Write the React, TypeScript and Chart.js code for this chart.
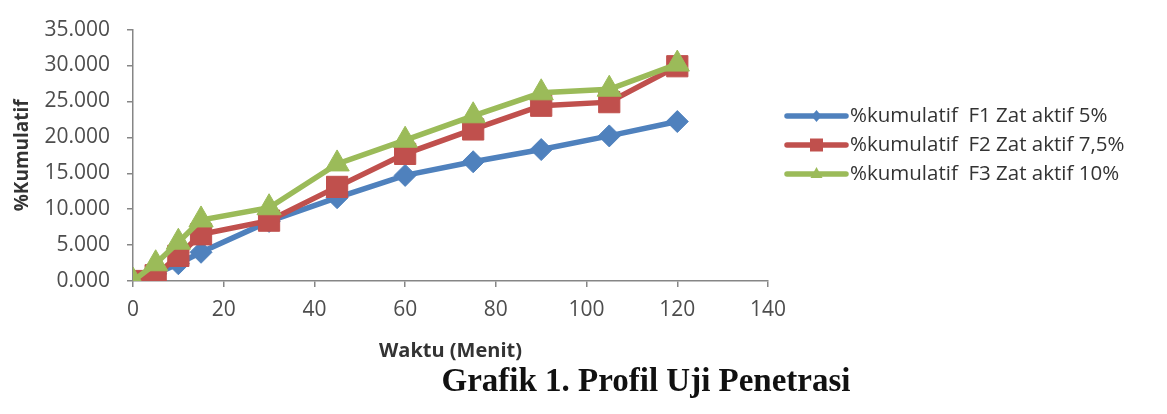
import React, { useEffect, useRef } from "react";
import { Chart, registerables } from "chart.js";

Chart.register(...registerables);

// ---- data ----
const times = [0, 5, 10, 15, 30, 45, 60, 75, 90, 105, 120];
const f1Values = [0, 1.0, 2.4, 4.0, 8.3, 11.6, 14.7, 16.6, 18.3, 20.2, 22.2];
const f2Values = [0, 0.8, 3.5, 6.5, 8.4, 13.1, 17.7, 21.1, 24.4, 24.9, 29.9];
const f3Values = [0, 2.4, 5.4, 8.5, 10.2, 16.3, 19.6, 23.0, 26.2, 26.7, 30.2];
const seriesLabels = [
  "%kumulatif  F1 Zat aktif 5%",
  "%kumulatif  F2 Zat aktif 7,5%",
  "%kumulatif  F3 Zat aktif 10%",
];
const xTitle = "Waktu (Menit)";
const yTitle = "%Kumulatif";
const caption = "Grafik 1. Profil Uji Penetrasi";

const COLORS = ["#4F81BD", "#C0504D", "#9BBB59"];
const STYLES = ["rectRot", "rect", "triangle"];
const RADII = [11, 15, 14];

const legendPlugin = {
  id: "excelLegend",
  afterDraw(chart: any) {
    const ctx = chart.ctx;
    const x0 = 787;
    const x1 = 846;
    const textX = 850;
    const y0 = 116;
    const step = 29;
    chart.data.datasets.forEach((ds: any, i: number) => {
      const y = y0 + i * step;
      const c = ds.borderColor;
      ctx.save();
      ctx.strokeStyle = c;
      ctx.fillStyle = c;
      ctx.lineWidth = 5.5;
      ctx.lineCap = "round";
      ctx.beginPath();
      ctx.moveTo(x0, y);
      ctx.lineTo(x1, y);
      ctx.stroke();
      const cx = (x0 + x1) / 2;
      ctx.beginPath();
      if (i === 0) {
        ctx.moveTo(cx, y - 6);
        ctx.lineTo(cx + 5, y);
        ctx.lineTo(cx, y + 6);
        ctx.lineTo(cx - 5, y);
        ctx.closePath();
      } else if (i === 1) {
        ctx.rect(cx - 6.5, y - 6.5, 13, 13);
      } else {
        ctx.moveTo(cx, y - 7);
        ctx.lineTo(cx + 6, y + 4);
        ctx.lineTo(cx - 6, y + 4);
        ctx.closePath();
      }
      ctx.fill();
      ctx.fillStyle = "#333333";
      ctx.font = '20.5px "Open Sans"';
      ctx.textBaseline = "middle";
      ctx.textAlign = "left";
      ctx.fillText(ds.label, textX, y);
      ctx.restore();
    });
  },
};

export default function App() {
  const canvasRef = useRef<HTMLCanvasElement | null>(null);

  useEffect(() => {
    let chart: Chart | null = null;
    let cancelled = false;
    const make = () => {
      if (cancelled || !canvasRef.current) return;
      const seriesData = [f1Values, f2Values, f3Values];
      chart = new Chart(canvasRef.current, {
        type: "line",
        data: {
          datasets: seriesData.map((vals, i) => ({
            label: seriesLabels[i],
            data: times.map((t, j) => ({ x: t, y: vals[j] })),
            borderColor: COLORS[i],
            backgroundColor: COLORS[i],
            borderWidth: 5.5,
            pointStyle: STYLES[i] as any,
            pointRadius: RADII[i],
            pointBorderWidth: 1,
            pointBackgroundColor: COLORS[i],
            pointBorderColor: COLORS[i],
            tension: 0,
            fill: false,
            order: 2 - i,
          })),
        },
        options: {
          animation: false,
          responsive: false,
          layout: { padding: { top: 18, right: 399, bottom: 43, left: 0 } },
          plugins: {
            legend: { display: false },
            tooltip: { enabled: false },
            title: { display: false },
          },
          scales: {
            x: {
              type: "linear",
              min: 0,
              max: 140,
              ticks: {
                stepSize: 20,
                font: { family: "Open Sans", size: 21 },
                color: "#4d4d4d",
                padding: 10,
              },
              grid: {
                display: true,
                drawOnChartArea: false,
                drawTicks: true,
                tickLength: 6,
                color: "#868686",
                lineWidth: 1.5,
              },
              border: { color: "#868686", width: 1.5 },
              title: {
                display: true,
                text: xTitle,
                font: { family: "Open Sans", size: 20, weight: "bold" },
                color: "#333333",
                padding: { top: 0, bottom: 8 },
              },
              afterFit(s: any) {
                s.height = 90;
              },
            },
            y: {
              min: 0,
              max: 35,
              ticks: {
                stepSize: 5,
                callback: (v: any) => Number(v).toFixed(3),
                font: { family: "Open Sans", size: 21 },
                color: "#4d4d4d",
                padding: 17,
              },
              grid: {
                display: true,
                drawOnChartArea: false,
                drawTicks: true,
                tickLength: 6,
                color: "#868686",
                lineWidth: 1.5,
              },
              border: { color: "#868686", width: 1.5 },
              title: {
                display: true,
                text: yTitle,
                font: { family: "Open Sans", size: 19, weight: "bold" },
                color: "#333333",
                padding: { top: 11, bottom: 0 },
              },
              afterFit(s: any) {
                s.width = 133;
              },
            },
          },
        },
        plugins: [legendPlugin],
      });
    };
    const fontsReady = (document as any).fonts
      ? Promise.all([
          (document as any).fonts.load('21px "Open Sans"'),
          (document as any).fonts.load('bold 20px "Open Sans"'),
        ]).catch(() => null)
      : Promise.resolve(null);
    fontsReady.then(make);
    return () => {
      cancelled = true;
      if (chart) chart.destroy();
    };
  }, []);

  return (
    <div
      style={{
        position: "absolute",
        left: 0,
        top: 0,
        width: 1167,
        height: 414,
        background: "#ffffff",
        overflow: "hidden",
      }}
    >
      <canvas
        ref={canvasRef}
        width={1167}
        height={414}
        style={{ position: "absolute", left: 0, top: 0, width: 1167, height: 414 }}
      />
      <div
        style={{
          position: "absolute",
          left: 646,
          top: 364,
          transform: "translateX(-50%)",
          fontFamily: '"Liberation Serif", "Times New Roman", serif',
          fontWeight: "bold",
          fontSize: 33,
          lineHeight: 1,
          whiteSpace: "nowrap",
          color: "#111111",
        }}
      >
        {caption}
      </div>
    </div>
  );
}
